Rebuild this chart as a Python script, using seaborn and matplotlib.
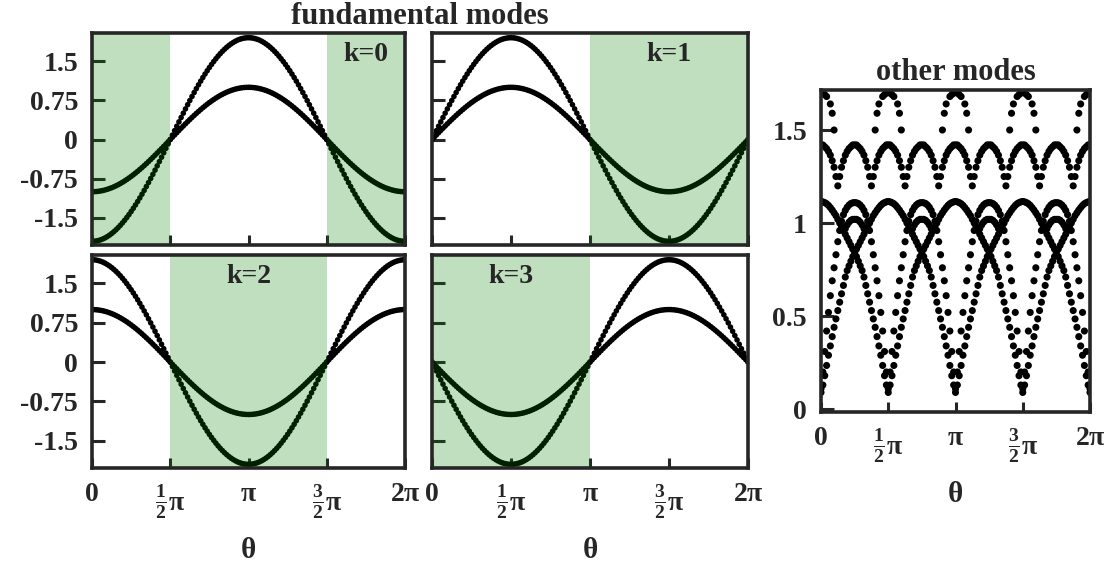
import numpy as np
import pandas as pd
import matplotlib
matplotlib.use("Agg")
import matplotlib.pyplot as plt
import seaborn as sns

sns.set_theme(style="ticks")
plt.rcParams["font.family"] = ["Liberation Serif", "DejaVu Serif"]
plt.rcParams["font.weight"] = "bold"
plt.rcParams["mathtext.fontset"] = "custom"
plt.rcParams["mathtext.rm"] = "Liberation Serif:bold"
plt.rcParams["mathtext.it"] = "Liberation Serif:bold"
plt.rcParams["mathtext.bf"] = "Liberation Serif:bold"

# ---------------------------------------------------------------- data
# theta grid: 2.5 degree steps over one full turn
theta_step_deg = 2.5
n_steps = 144

# unit mode profile sampled on the theta grid (crest at theta = 0)
mode_profile = [
    1.0, 0.9990, 0.9962, 0.9914, 0.9848, 0.9763, 0.9659, 0.9537, 0.9397, 0.9239,
    0.9063, 0.8870, 0.8660, 0.8434, 0.8192, 0.7934, 0.7660, 0.7373, 0.7071, 0.6756,
    0.6428, 0.6088, 0.5736, 0.5373, 0.5, 0.4617, 0.4226, 0.3827, 0.3420, 0.3007,
    0.2588, 0.2164, 0.1736, 0.1305, 0.0872, 0.0436, 0.0,
    -0.0436, -0.0872, -0.1305, -0.1736, -0.2164, -0.2588, -0.3007, -0.3420, -0.3827,
    -0.4226, -0.4617, -0.5, -0.5373, -0.5736, -0.6088, -0.6428, -0.6756, -0.7071,
    -0.7373, -0.7660, -0.7934, -0.8192, -0.8434, -0.8660, -0.8870, -0.9063, -0.9239,
    -0.9397, -0.9537, -0.9659, -0.9763, -0.9848, -0.9914, -0.9962, -0.9990, -1.0,
    -0.9990, -0.9962, -0.9914, -0.9848, -0.9763, -0.9659, -0.9537, -0.9397, -0.9239,
    -0.9063, -0.8870, -0.8660, -0.8434, -0.8192, -0.7934, -0.7660, -0.7373, -0.7071,
    -0.6756, -0.6428, -0.6088, -0.5736, -0.5373, -0.5, -0.4617, -0.4226, -0.3827,
    -0.3420, -0.3007, -0.2588, -0.2164, -0.1736, -0.1305, -0.0872, -0.0436, 0.0,
    0.0436, 0.0872, 0.1305, 0.1736, 0.2164, 0.2588, 0.3007, 0.3420, 0.3827, 0.4226,
    0.4617, 0.5, 0.5373, 0.5736, 0.6088, 0.6428, 0.6756, 0.7071, 0.7373, 0.7660,
    0.7934, 0.8192, 0.8434, 0.8660, 0.8870, 0.9063, 0.9239, 0.9397, 0.9537, 0.9659,
    0.9763, 0.9848, 0.9914, 0.9962, 0.9990, 1.0,
]

mode_amplitudes = [1.0, 1.95]
mode_k = [0, 1, 2, 3]
# quarter-turn shift of the crest for each fundamental mode
mode_shift_quarters = [2, 1, 0, 3]
# shaded theta intervals (in units of pi) where the mode is negative
shaded_spans = {
    0: [(0.0, 0.5), (1.5, 2.0)],
    1: [(1.0, 2.0)],
    2: [(0.5, 1.5)],
    3: [(0.0, 1.0)],
}
label_xfrac = {0: 0.875, 1: 0.75, 2: 0.5, 3: 0.25}

# other modes: each branch repeats along theta; profile maps the grid-step
# offset from a branch centre to |amplitude|; centres start at `first`
# and repeat every `every` grid steps
other_branches = [
    # narrow crests at 1.7
    dict(first=0, every=36,
         profile={0: 1.70, 1: 1.70, 2: 1.69, 3: 1.68, 5: 1.64, 6: 1.59, 7: 1.50}),
    # arches near 1.4 with falling legs
    dict(first=0, every=18,
         profile={0: 1.42, 1: 1.42, 2: 1.41, 3: 1.40, 4: 1.385, 5: 1.365,
                  6: 1.335, 7: 1.30, 8: 1.25, 9: 1.20}),
    # small inner arches near 1.0
    dict(first=18, every=36,
         profile={0: 1.02, 1: 1.02, 2: 1.015, 3: 1.005, 4: 0.99, 5: 0.97}),
    # wide branch: crest 1.116, crossing at 0.84, dip to ~0.1
    dict(first=0, every=36,
         profile={0: 1.116, 1: 1.114, 2: 1.11, 3: 1.104, 4: 1.095, 5: 1.083,
                  6: 1.07, 7: 1.055, 8: 1.04, 9: 1.02, 10: 1.0, 11: 0.98,
                  12: 0.96, 13: 0.94, 14: 0.92, 15: 0.90, 16: 0.88, 17: 0.86,
                  18: 0.84, 19: 0.82, 20: 0.795, 21: 0.77, 22: 0.745, 23: 0.71,
                  24: 0.665, 25: 0.62, 26: 0.575, 27: 0.53, 28: 0.485, 29: 0.44,
                  30: 0.39, 31: 0.34, 32: 0.29, 33: 0.235, 34: 0.18, 35: 0.13,
                  36: 0.09}),
    # narrow branch: crest 1.11 between the wide crests, dip to ~0.1
    dict(first=18, every=36,
         profile={0: 1.11, 1: 1.109, 2: 1.105, 3: 1.097, 4: 1.085, 5: 1.068,
                  6: 1.045, 7: 1.01, 8: 0.96, 9: 0.90, 10: 0.83, 11: 0.76,
                  12: 0.69, 13: 0.61, 14: 0.52, 15: 0.42, 16: 0.31, 17: 0.20,
                  18: 0.11}),
]

x_tick_pos = [0.0, 0.5 * np.pi, np.pi, 1.5 * np.pi, 2.0 * np.pi]
x_tick_labels = ["0", r"$\frac{1}{2}\pi$", r"$\pi$", r"$\frac{3}{2}\pi$", r"$2\pi$"]
fund_y_ticks = [-1.5, -0.75, 0.0, 0.75, 1.5]
fund_y_labels = ["-1.5", "-0.75", "0", "0.75", "1.5"]
other_y_ticks = [0.0, 0.5, 1.0, 1.5]
other_y_labels = ["0", "0.5", "1", "1.5"]

# ---------------------------------------------------------------- tables
theta = np.radians(np.arange(n_steps + 1) * theta_step_deg)
profile = np.array(mode_profile)

fund_rows = []
for k, shift in zip(mode_k, mode_shift_quarters):
    base = np.roll(profile[:-1], shift * (n_steps // 4))
    base = np.append(base, base[0])
    for amp in mode_amplitudes:
        fund_rows.append(pd.DataFrame({"theta": theta, "value": amp * base,
                                       "k": k, "amplitude": amp}))
fund = pd.concat(fund_rows, ignore_index=True)

other_rows = set()
for b, br in enumerate(other_branches):
    for c in range(br["first"] - 36, n_steps + 37, br["every"]):
        for off, v in br["profile"].items():
            for idx in (c - off, c + off):
                if 0 <= idx <= n_steps:
                    other_rows.add((idx, v, b))
other = pd.DataFrame(sorted(other_rows), columns=["step", "value", "branch"])
other["theta"] = theta[other["step"].to_numpy()]

# ---------------------------------------------------------------- figure
W, H = 1115, 567
fig = plt.figure(figsize=(W / 100, H / 100), dpi=100)

FS = 20


def ax_at(x0, y0, x1, y1):
    return fig.add_axes([x0 / W, 1 - y1 / H, (x1 - x0) / W, (y1 - y0) / H])


def style_axes(ax):
    ax.tick_params(axis="y", direction="in", length=9.5, width=2.2, pad=10)
    ax.tick_params(axis="x", direction="in", length=7.5, width=2.2, pad=10)
    for s in ax.spines.values():
        s.set_linewidth(2.6)
        s.set_visible(True)
        s.set_zorder(5)


panel_boxes = {
    0: (92, 33, 405, 245),
    1: (432, 33, 748, 245),
    2: (92, 255, 405, 468),
    3: (432, 255, 748, 468),
}

for k in mode_k:
    ax = ax_at(*panel_boxes[k])
    d = fund[fund["k"] == k]
    sns.scatterplot(data=d, x="theta", y="value", color="black", s=16,
                    edgecolor="none", linewidth=0, legend=False, ax=ax, zorder=2)
    for a, b in shaded_spans[k]:
        ax.axvspan(a * np.pi, b * np.pi, color="green", alpha=0.25, lw=0, zorder=3)
    ax.set_xlim(0, 2 * np.pi)
    ax.set_ylim(-2.02, 2.04)
    ax.set_xticks(x_tick_pos)
    ax.set_yticks(fund_y_ticks)
    if k in (2, 3):
        ax.set_xticklabels(x_tick_labels, fontsize=FS, fontweight="bold")
        ax.set_xlabel("θ", fontsize=FS + 1, fontweight="bold", labelpad=12)
    else:
        ax.set_xticklabels([])
        ax.set_xlabel("")
    if k in (0, 2):
        ax.set_yticklabels(fund_y_labels, fontsize=FS, fontweight="bold")
    else:
        ax.set_yticklabels([])
    ax.set_ylabel("")
    style_axes(ax)
    ax.text(label_xfrac[k], 0.9, f"k={k}", transform=ax.transAxes, ha="center",
            va="center", fontsize=FS, fontweight="bold", zorder=6)

fig.text(420 / W, 1 - 16 / H, "fundamental modes", ha="center", va="center",
         fontsize=FS + 2, fontweight="bold")

axo = ax_at(821, 90, 1090, 412)
sns.scatterplot(data=other, x="theta", y="value", color="black", s=26,
                edgecolor="none", linewidth=0, legend=False, ax=axo, zorder=2)
axo.set_xlim(0, 2 * np.pi)
axo.set_ylim(-0.015, 1.715)
axo.set_xticks(x_tick_pos)
axo.set_xticklabels(x_tick_labels, fontsize=FS, fontweight="bold")
axo.set_yticks(other_y_ticks)
axo.set_yticklabels(other_y_labels, fontsize=FS, fontweight="bold")
axo.set_xlabel("θ", fontsize=FS + 1, fontweight="bold", labelpad=12)
axo.set_ylabel("")
style_axes(axo)
axo.set_title("other modes", fontsize=FS + 2, fontweight="bold", pad=7)

fig.savefig("out.png", dpi=100)
